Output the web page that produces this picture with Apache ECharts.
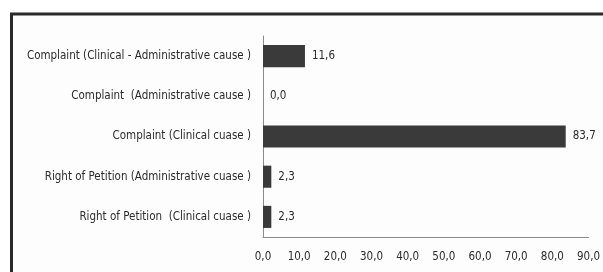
<!DOCTYPE html>
<html>
<head>
<meta charset="utf-8">
<script src="https://cdn.jsdelivr.net/npm/echarts@6/dist/echarts.min.js"></script>
<style>
html, body { margin: 0; padding: 0; background: #ffffff; }
#chart { width: 603px; height: 272px; }
</style>
</head>
<body>
<div id="chart"></div>
<script>
var categories = [
	'Right of Petition  (Clinical cuase )',
	'Right of Petition (Administrative cuase )',
	'Complaint (Clinical cuase )',
	'Complaint  (Administrative cause )',
	'Complaint (Clinical - Administrative cause )'
];
var values = [2.3, 2.3, 83.7, 0.0, 11.6];
var xTicks = [0, 10, 20, 30, 40, 50, 60, 70, 80, 90];

var font = '"Liberation Sans Narrow", "DejaVu Sans Condensed", "Liberation Sans", sans-serif';
function fmt(v) {
	return v.toFixed(1).replace('.', ',');
}

var chart = echarts.init(document.getElementById('chart'));
chart.setOption({
	animation: false,
	backgroundColor: '#ffffff',
	graphic: [
		{ type: 'rect', shape: { x: 12, y: 15, width: 591, height: 257 }, style: { fill: '#fdfdfd' }, z: -10 },
		{ type: 'line', shape: { x1: 10, y1: 14, x2: 603, y2: 14 }, style: { stroke: '#2a2a2a', lineWidth: 3 } },
		{ type: 'line', shape: { x1: 11.5, y1: 13, x2: 11.5, y2: 272 }, style: { stroke: '#2a2a2a', lineWidth: 3 } }
	],
	grid: {
		left: 263,
		right: 13,
		top: 36,
		bottom: 35
	},
	xAxis: {
		type: 'value',
		min: xTicks[0],
		max: xTicks[xTicks.length - 1],
		interval: 10,
		splitLine: { show: false },
		axisLine: { show: true, lineStyle: { color: '#8a8a8a', width: 1 } },
		axisTick: { show: false },
		axisLabel: {
			margin: 14,
			fontSize: 11.5,
			fontFamily: font,
			color: '#2b2b2b',
			formatter: function(v) { return fmt(v); }
		}
	},
	yAxis: {
		type: 'category',
		data: categories,
		axisLine: { show: true, lineStyle: { color: '#8a8a8a', width: 1 } },
		axisTick: { show: false },
		axisLabel: {
			margin: 12,
			fontSize: 11.5,
			fontFamily: font,
			color: '#2b2b2b'
		}
	},
	series: [{
		type: 'bar',
		data: values,
		barWidth: '55%',
		itemStyle: { color: '#3a3a3a' },
		label: {
			show: true,
			position: 'right',
			distance: 7,
			fontSize: 11.5,
			fontFamily: font,
			color: '#2b2b2b',
			formatter: function(p) { return fmt(p.value); }
		}
	}]
});
</script>
</body>
</html>
